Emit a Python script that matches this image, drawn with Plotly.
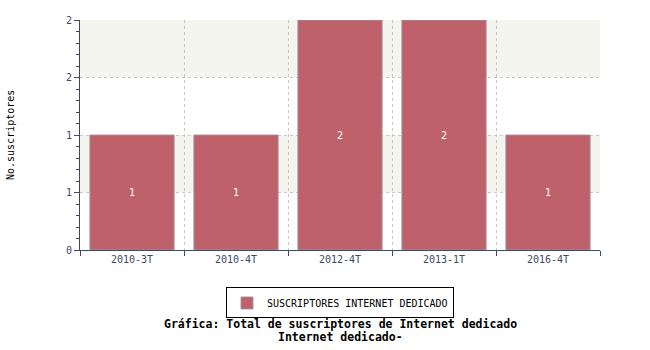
import plotly.graph_objects as go

categories = ["2010-3T", "2010-4T", "2012-4T", "2013-1T", "2016-4T"]
values = [1, 1, 2, 2, 1]
series_name = "SUSCRIPTORES INTERNET DEDICADO"
y_tickvals = [0, 0.5, 1, 1.5, 2]
y_ticktext = ["0", "1", "1", "2", "2"]
y_title = "No.suscriptores"
title_lines = ["Gráfica: Total de suscriptores de Internet dedicado", "Internet dedicado-"]

MONO = "DejaVu Sans Mono"
AXIS = "#3b4a6b"
BAR = "#bf616b"

fig = go.Figure()
fig.add_trace(go.Bar(
    x=categories, y=values, name=series_name,
    marker=dict(color=BAR, line=dict(color="rgba(160,150,155,0.9)", width=1)),
    width=0.81,
    text=[str(v) for v in values], textposition="inside", insidetextanchor="middle",
    textfont=dict(family=MONO, size=10, color="white"),
    showlegend=True,
))

# alternating bands
for lo, hi in [(0.5, 1.0), (1.5, 2.0)]:
    fig.add_shape(type="rect", xref="paper", yref="y", x0=0, x1=1, y0=lo, y1=hi,
                  fillcolor="#f5f5f0", line=dict(width=0), layer="below")

fig.update_layout(
    width=650, height=350,
    margin=dict(l=80, r=50, t=20, b=100, autoexpand=False),
    paper_bgcolor="white", plot_bgcolor="white",
    font=dict(family=MONO, size=10, color=AXIS),
    legend=dict(orientation="h", x=0.5, xanchor="center", y=-0.163, yanchor="top",
                bordercolor="black", borderwidth=1, bgcolor="white",
                font=dict(family=MONO, size=10, color="black")),
    xaxis=dict(type="category", tickson="boundaries", ticks="outside", ticklen=5,
               tickcolor=AXIS, showline=True, linecolor=AXIS, linewidth=1,
               showgrid=True, gridcolor="#c8c8c8", griddash="dot", gridwidth=1,
               automargin=False,
               tickfont=dict(family=MONO, size=10, color=AXIS)),
    yaxis=dict(range=[0, 2], tickvals=y_tickvals, ticktext=y_ticktext,
               ticks="outside", ticklen=5, tickcolor=AXIS,
               showline=True, linecolor=AXIS, linewidth=1,
               showgrid=True, gridcolor="#c8c8c8", griddash="dot", gridwidth=1,
               zeroline=False, automargin=False,
               minor=dict(dtick=0.1, tick0=0, ticks="outside", ticklen=3, tickcolor=AXIS, showgrid=False),
               tickfont=dict(family=MONO, size=10, color=AXIS)),
)

fig.add_annotation(xref="paper", yref="paper", x=-70/520, xanchor="center", y=0.5,
                   text=y_title, textangle=-90, showarrow=False,
                   font=dict(family=MONO, size=10, color="black"))

for i, line in enumerate(title_lines):
    fig.add_annotation(xref="paper", yref="paper", x=0.5, y=-(74 + 13 * i) / 230,
                       yanchor="middle", text="<b>" + line + "</b>", showarrow=False,
                       font=dict(family=MONO, size=11.5, color="black"))

fig.write_html("out.html")
